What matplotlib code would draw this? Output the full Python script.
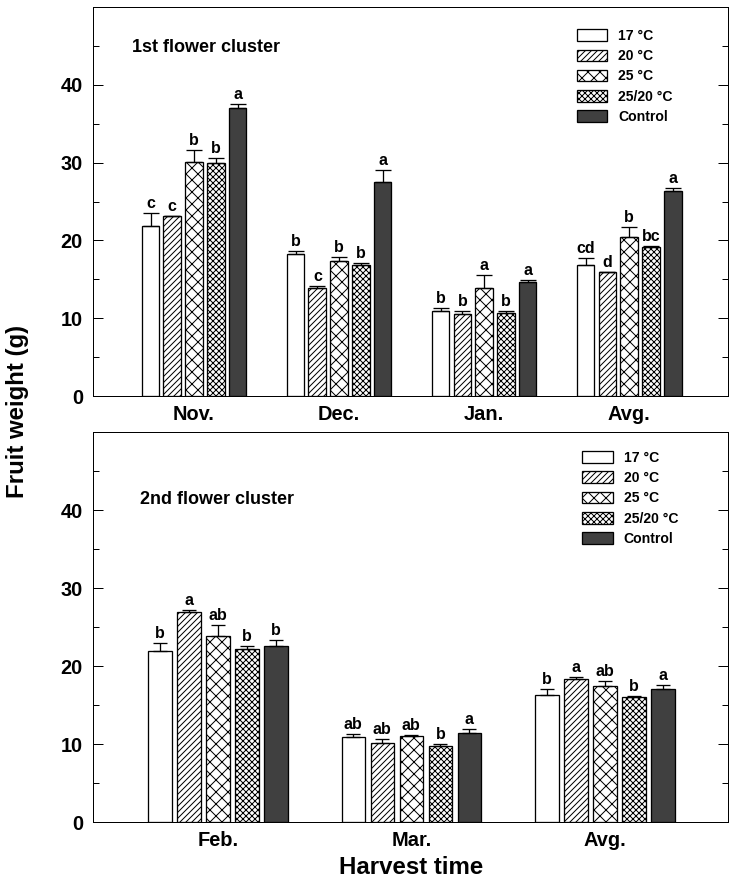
import matplotlib
matplotlib.use("Agg")
import matplotlib.pyplot as plt
import numpy as np

plt.rcParams['font.family'] = ['Liberation Sans', 'DejaVu Sans']
plt.rcParams['font.weight'] = 'bold'
plt.rcParams['hatch.linewidth'] = 1.0

treatments = ["17 \u00b0C", "20 \u00b0C", "25 \u00b0C", "25/20 \u00b0C", "Control"]
face_colors = ["white", "white", "white", "white", "#404040"]
hatches = ["", "////", "xx", "xxxx", ""]

# ---- 1st flower cluster ----
top_categories = ["Nov.", "Dec.", "Jan.", "Avg."]
top_17 = [21.8, 18.2, 10.9, 16.9]
top_20 = [23.1, 13.9, 10.5, 15.9]
top_25 = [30.1, 17.4, 13.9, 20.4]
top_25_20 = [30.0, 16.9, 10.7, 19.2]
top_ctrl = [37.0, 27.5, 14.6, 26.4]
top_err_17 = [1.7, 0.5, 0.4, 0.9]
top_err_20 = [0.1, 0.3, 0.4, 0.1]
top_err_25 = [1.5, 0.5, 1.7, 1.3]
top_err_25_20 = [0.6, 0.2, 0.2, 0.1]
top_err_ctrl = [0.6, 1.6, 0.3, 0.4]
top_let_17 = ["c", "b", "b", "cd"]
top_let_20 = ["c", "c", "b", "d"]
top_let_25 = ["b", "b", "a", "b"]
top_let_25_20 = ["b", "b", "b", "bc"]
top_let_ctrl = ["a", "a", "a", "a"]

# ---- 2nd flower cluster ----
bot_categories = ["Feb.", "Mar.", "Avg."]
bot_17 = [21.9, 10.9, 16.3]
bot_20 = [26.9, 10.1, 18.4]
bot_25 = [23.9, 11.0, 17.5]
bot_25_20 = [22.2, 9.7, 16.0]
bot_ctrl = [22.6, 11.4, 17.0]
bot_err_17 = [1.0, 0.4, 0.8]
bot_err_20 = [0.3, 0.6, 0.25]
bot_err_25 = [1.4, 0.1, 0.6]
bot_err_25_20 = [0.4, 0.25, 0.1]
bot_err_ctrl = [0.8, 0.5, 0.6]
bot_let_17 = ["b", "ab", "b"]
bot_let_20 = ["a", "ab", "a"]
bot_let_25 = ["ab", "ab", "ab"]
bot_let_25_20 = ["b", "b", "b"]
bot_let_ctrl = ["b", "a", "a"]

top_means = [top_17, top_20, top_25, top_25_20, top_ctrl]
top_errs = [top_err_17, top_err_20, top_err_25, top_err_25_20, top_err_ctrl]
top_lets = [top_let_17, top_let_20, top_let_25, top_let_25_20, top_let_ctrl]
bot_means = [bot_17, bot_20, bot_25, bot_25_20, bot_ctrl]
bot_errs = [bot_err_17, bot_err_20, bot_err_25, bot_err_25_20, bot_err_ctrl]
bot_lets = [bot_let_17, bot_let_20, bot_let_25, bot_let_25_20, bot_let_ctrl]

DPI = 72
fig = plt.figure(figsize=(739 / DPI, 886 / DPI), dpi=DPI)
ax1 = fig.add_axes([0.1258, 0.553, 0.859, 0.439])
ax2 = fig.add_axes([0.1258, 0.0722, 0.859, 0.4402])


def draw(ax, cats, means, errs, lets, xlim, capsize, title, title_pos, leg_anchor):
    x = np.arange(1, len(cats) + 1)
    step = 0.15
    width = 0.122
    handles = []
    for i in range(5):
        pos = x + (i - 2) * step
        m = np.array(means[i])
        e = np.array(errs[i])
        b = ax.bar(pos, m, width, color=face_colors[i], edgecolor="black",
                   hatch=hatches[i], linewidth=1.3, zorder=2, label=treatments[i])
        handles.append(b)
        ax.errorbar(pos, m, yerr=[np.zeros_like(e), e], fmt="none",
                    ecolor="black", elinewidth=1.3, capsize=capsize,
                    capthick=1.3, zorder=3)
        for px, mv, ev, lt in zip(pos, m, e, lets[i]):
            ax.annotate(lt, (px, mv + ev), xytext=(0, 2), textcoords="offset points",
                        ha="center", va="bottom", fontsize=16, fontweight="bold")
    ax.set_xlim(*xlim)
    ax.set_ylim(0, 50)
    ax.set_xticks(x)
    ax.set_xticklabels(cats, fontsize=20, fontweight="bold")
    ax.set_yticks([0, 10, 20, 30, 40])
    ax.set_yticks([5, 15, 25, 35, 45], minor=True)
    ax.tick_params(axis="y", which="major", direction="in", length=10, width=1,
                   right=True, labelsize=20, pad=10)
    ax.tick_params(axis="y", which="minor", direction="in", length=6, width=1,
                   right=True)
    ax.tick_params(axis="x", length=0, pad=9)
    for lbl in ax.get_yticklabels():
        lbl.set_fontweight("bold")
    for sp in ax.spines.values():
        sp.set_linewidth(1.0)
    ax.text(title_pos[0], title_pos[1], title, transform=ax.transAxes,
            fontsize=18, fontweight="bold", ha="left", va="center")
    ax.legend(handles=handles, loc="upper left", bbox_to_anchor=leg_anchor,
              frameon=False, handlelength=2.2, handleheight=0.9,
              labelspacing=0.45, handletextpad=0.75, borderpad=0, borderaxespad=0,
              prop={"weight": "bold", "size": 14})


draw(ax1, top_categories, top_means, top_errs, top_lets, (0.303, 4.68), 8,
     "1st flower cluster", (0.061, 0.897), (0.762, 0.944))
draw(ax2, bot_categories, bot_means, bot_errs, bot_lets, (0.354, 3.636), 7,
     "2nd flower cluster", (0.074, 0.826), (0.771, 0.952))

fig.text(0.024, 0.536, "Fruit weight (g)", rotation=90, fontsize=24,
         fontweight="bold", ha="center", va="center")
fig.text(0.556, 0.021, "Harvest time", fontsize=24, fontweight="bold",
         ha="center", va="center")

fig.savefig("out.png", dpi=DPI)
